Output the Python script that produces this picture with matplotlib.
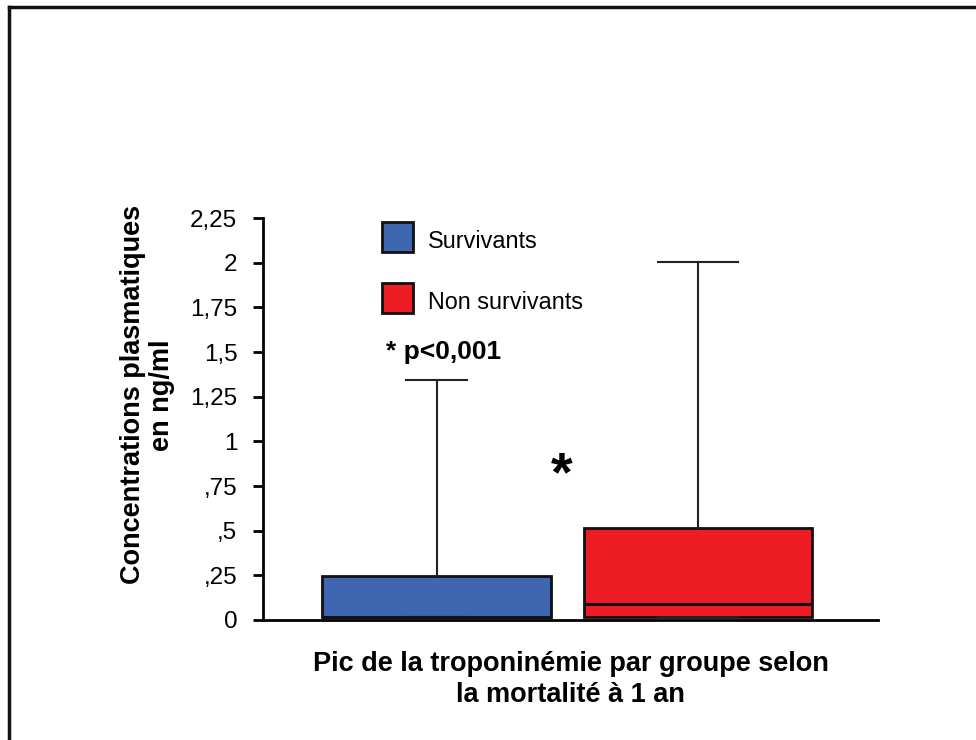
import matplotlib.pyplot as plt
from matplotlib.patches import Rectangle
from matplotlib.lines import Line2D

plt.rcParams['font.family'] = ['Liberation Sans', 'DejaVu Sans']

# Données (ng/ml)
groupes = ['Survivants', 'Non survivants']
couleurs = ['#3F66B0', '#EE1C25']
q1 = [0.015, 0.015]
medianes = [0.015, 0.09]
q3 = [0.245, 0.515]
maxima = [1.345, 2.005]
largeurs_cap = [0.233, 0.306]
yticks = [0, 0.25, 0.5, 0.75, 1, 1.25, 1.5, 1.75, 2, 2.25]
ytick_labels = ['0', ',25', ',5', ',75', '1', '1,25', '1,5', '1,75', '2', '2,25']

fig = plt.figure(figsize=(9.76, 7.4), dpi=100)
ax = fig.add_axes([263 / 976, 120 / 740, 615 / 976, 402 / 740])

stats = []
for i in range(len(groupes)):
    stats.append({'med': medianes[i], 'q1': q1[i], 'q3': q3[i],
                  'whislo': q1[i], 'whishi': maxima[i], 'label': groupes[i]})

bp = ax.bxp(stats, positions=[1, 2], widths=0.872, patch_artist=True,
            showfliers=False, capwidths=largeurs_cap,
            boxprops=dict(linewidth=2.0, edgecolor='#111111'),
            medianprops=dict(color='#111111', linewidth=2.2),
            whiskerprops=dict(color='#222222', linewidth=1.5),
            capprops=dict(color='#222222', linewidth=1.5))
for box, c in zip(bp['boxes'], couleurs):
    box.set_facecolor(c)
    box.set_zorder(2)

ax.set_xlim(0.3365, 2.688)
ax.set_ylim(0, 2.25)
ax.set_yticks(yticks)
ax.set_yticklabels(ytick_labels, fontsize=17.5)
ax.tick_params(axis='y', length=7.5, width=2, direction='out', pad=11)
ax.set_xticks([])
for s in ['top', 'right']:
    ax.spines[s].set_visible(False)
ax.spines['left'].set_linewidth(2)
ax.spines['bottom'].set_linewidth(2)

ax.set_ylabel('Concentrations plasmatiques\nen ng/ml', fontsize=19.5,
              fontweight='bold', linespacing=1.15)
ax.yaxis.set_label_coords(-0.143, 0.56)
ax.set_xlabel('Pic de la troponinémie par groupe selon\nla mortalité à 1 an',
              fontsize=19.5, fontweight='bold', labelpad=22, linespacing=1.25)

# Légende manuelle
leg_y = [222, 283]
for lab, c, y in zip(groupes, couleurs, leg_y):
    fig.patches.append(Rectangle((382 / 976, 1 - (y + 30) / 740), 31 / 976, 30 / 740,
                                 transform=fig.transFigure, facecolor=c,
                                 edgecolor='#111111', linewidth=2))
    fig.text(428 / 976, 1 - (y + 19) / 740, lab, fontsize=16.8, va='center', ha='left')

fig.text(386 / 976, 1 - 352 / 740, '* p<0,001', fontsize=19, fontweight='bold',
         va='center', ha='left')
fig.text(562 / 976, 1 - 476 / 740, '*', fontsize=40, fontweight='bold',
         va='center', ha='center')

# Cadre (haut et gauche)
fig.add_artist(Line2D([9 / 976, 1], [1 - 7 / 740, 1 - 7 / 740], color='#111111',
                      linewidth=2.5, transform=fig.transFigure))
fig.add_artist(Line2D([9 / 976, 9 / 976], [0, 1 - 7 / 740], color='#111111',
                      linewidth=2.5, transform=fig.transFigure))

fig.savefig('out.png', dpi=100)
